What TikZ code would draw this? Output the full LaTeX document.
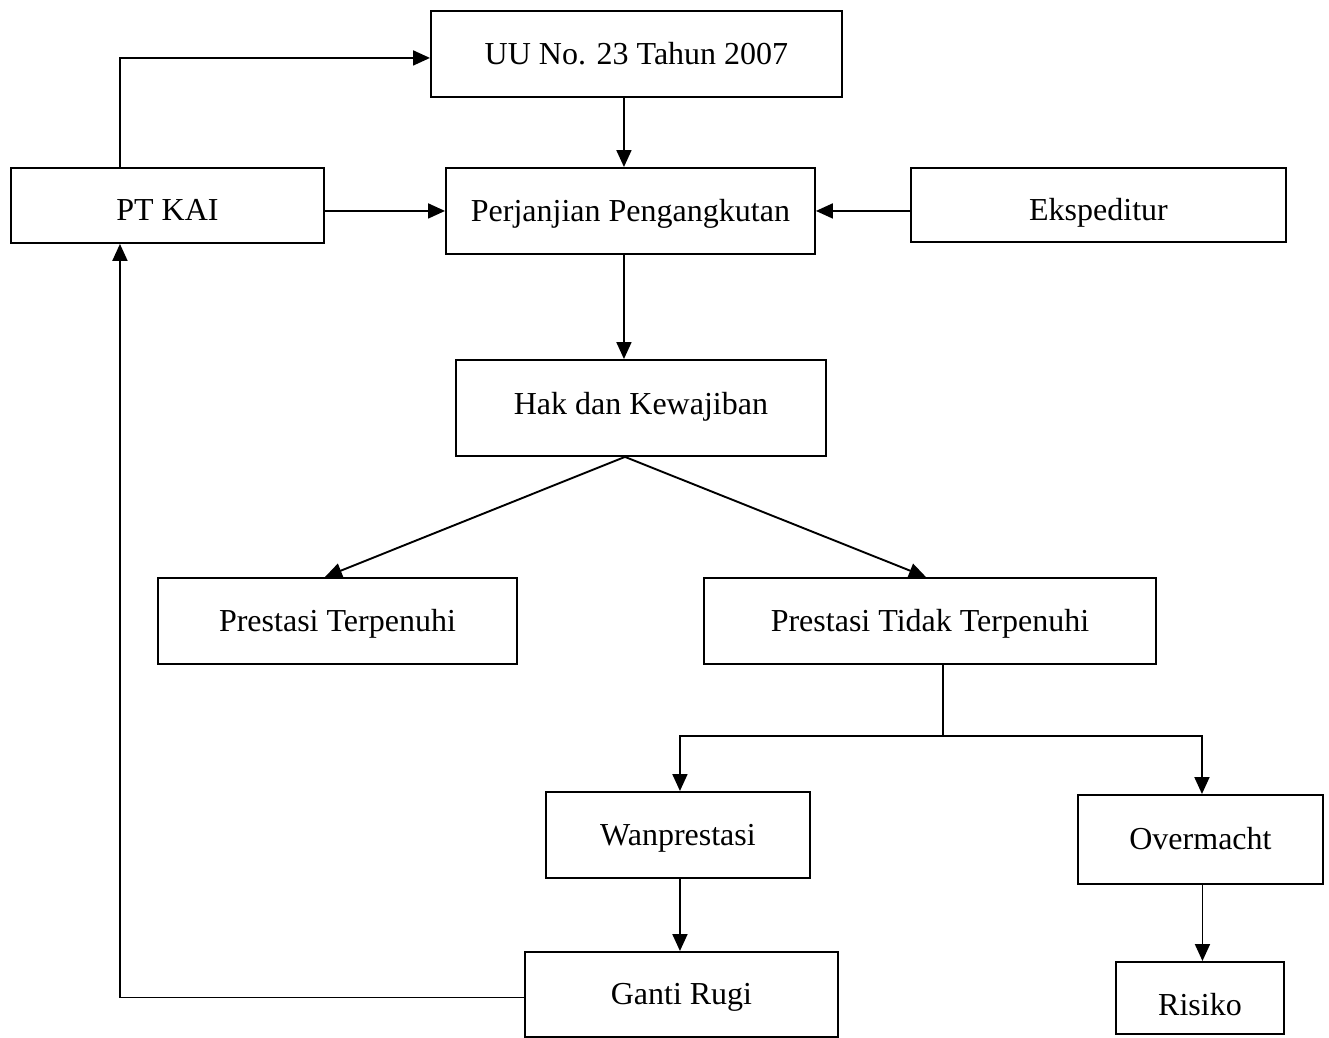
\documentclass[tikz,border=0pt]{standalone}
\usepackage{fontspec}
\setmainfont{Liberation Serif}
\usetikzlibrary{arrows.meta}
\begin{document}
\begin{tikzpicture}[x=1pt,y=-1pt,
  box/.style={draw, line width=1.9pt, rectangle, anchor=north west, inner sep=0pt,
    text height=28pt, text depth=7pt,
    font=\fontsize{32}{38}\selectfont},
  link/.style={line width=1.9pt},
  arr/.style={line width=1.9pt, -{Triangle[length=17pt,width=15pt]}}]
\useasboundingbox (0,0) rectangle (1329,1037);
\node[box, minimum width=411pt, minimum height=86pt] (uu) at (430,10) {UU No. 23 Tahun 2007};
\node[box, minimum width=313pt, minimum height=75pt, text height=38pt] (ptkai) at (10,167) {PT KAI};
\node[box, minimum width=369pt, minimum height=86pt] (perj) at (445,167) {Perjanjian Pengangkutan};
\node[box, minimum width=375pt, minimum height=74pt, text height=38pt] (eksp) at (910,167) {Ekspeditur};
\node[box, minimum width=370pt, minimum height=96pt, text depth=15pt] (hak) at (455,359) {Hak dan Kewajiban};
\node[box, minimum width=359pt, minimum height=86pt] (pt) at (157,577) {Prestasi Terpenuhi};
\node[box, minimum width=452pt, minimum height=86pt] (ptt) at (703,577) {Prestasi Tidak Terpenuhi};
\node[box, minimum width=264pt, minimum height=86pt] (wan) at (545,791) {Wanprestasi};
\node[box, minimum width=245pt, minimum height=89pt] (over) at (1077,794) {Overmacht};
\node[box, minimum width=313pt, minimum height=85pt] (ganti) at (524,951) {Ganti Rugi};
\node[box, minimum width=168pt, minimum height=72pt, text height=42pt] (risiko) at (1115,961) {Risiko};
\coordinate (j) at (943,736);
% connectors
\draw[arr] ([xshift=-47.5pt]ptkai.north) |- ([yshift=-4pt]uu.west);
\draw[arr] ([xshift=-6.5pt]perj.north |- uu.south) -- ([xshift=-6.5pt]perj.north);
\draw[arr] (ptkai.east |- perj.west) -- (perj.west);
\draw[arr] (eksp.west |- perj.east) -- (perj.east);
\draw[arr] ([xshift=-6.5pt]perj.south) -- ([xshift=-6.5pt]perj.south |- hak.north);
\draw[arr] ([xshift=-16pt]hak.south) -- ([xshift=-12.5pt]pt.north);
\draw[arr] ([xshift=-16pt]hak.south) -- ([xshift=-4pt]ptt.north);
\draw[link] (ptt.south -| j) -- (j);
\draw[arr] (j) -| ([xshift=2pt]wan.north);
\draw[arr] (j) -| ([xshift=1.5pt]over.north);
\draw[arr] ([xshift=2pt]wan.south) -- ([xshift=2pt]wan.south |- ganti.north);
\draw[arr] ([xshift=2pt]over.south) -- ([xshift=2pt]over.south |- risiko.north);
\draw[arr] ([yshift=-3pt]ganti.west) -| ([xshift=-47.5pt]ptkai.south);
\end{tikzpicture}
\end{document}
